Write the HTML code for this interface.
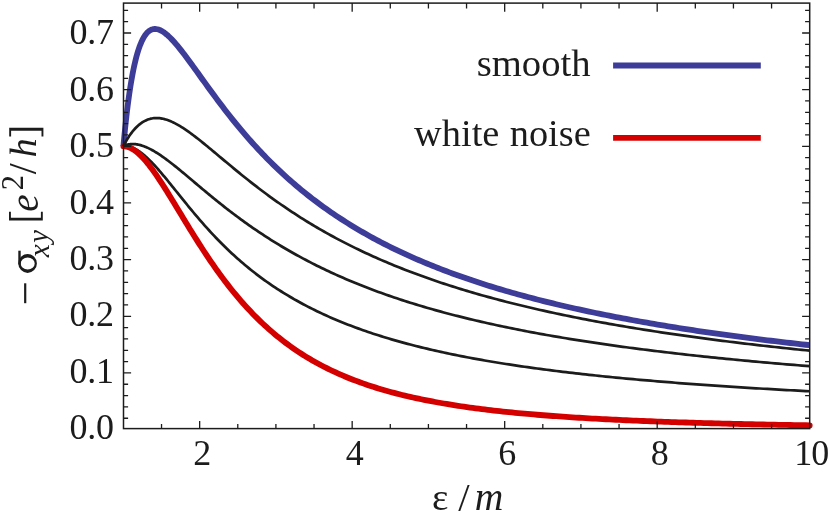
<!DOCTYPE html>
<html><head><meta charset="utf-8"><title>sigma_xy</title>
<style>
html,body{margin:0;padding:0;background:#fff;}
svg{display:block;will-change:transform;}
text{font-family:"Liberation Serif",serif;fill:#1c1c1c;}
</style></head>
<body>
<svg width="830" height="514" viewBox="0 0 830 514">
<rect width="830" height="514" fill="#ffffff"/>
<path d="M123.40 146.30 L123.44 145.83 L123.54 144.77 L123.67 143.27 L123.85 141.39 L124.05 139.19 L124.29 136.69 L124.56 133.94 L124.86 130.97 L125.18 127.80 L125.53 124.47 L125.90 121.00 L126.30 117.41 L126.72 113.73 L127.17 109.98 L127.64 106.18 L128.13 102.35 L128.64 98.50 L129.18 94.67 L129.74 90.85 L130.31 87.08 L130.91 83.36 L131.53 79.70 L132.17 76.12 L132.82 72.63 L133.50 69.24 L134.20 65.95 L134.91 62.78 L135.65 59.74 L136.40 56.82 L137.17 54.04 L137.96 51.39 L138.77 48.89 L139.59 46.54 L140.44 44.33 L141.30 42.27 L142.18 40.37 L143.07 38.61 L143.98 37.01 L144.91 35.55 L145.86 34.25 L146.82 33.10 L147.80 32.09 L148.80 31.23 L149.81 30.51 L150.84 29.93 L151.88 29.49 L152.94 29.18 L154.02 29.00 L155.11 28.95 L156.22 29.03 L157.34 29.23 L158.48 29.54 L159.64 29.97 L160.81 30.50 L161.99 31.14 L163.19 31.89 L164.41 32.73 L165.64 33.66 L166.88 34.69 L168.14 35.80 L169.42 37.00 L170.71 38.27 L172.01 39.62 L173.33 41.04 L174.67 42.53 L176.01 44.08 L177.38 45.70 L178.75 47.37 L180.14 49.10 L181.55 50.88 L182.97 52.71 L184.40 54.58 L185.85 56.50 L187.31 58.46 L188.78 60.45 L190.27 62.48 L191.78 64.54 L193.29 66.63 L194.82 68.75 L196.37 70.90 L197.92 73.06 L199.50 75.25 L201.08 77.46 L202.68 79.68 L204.29 81.92 L205.91 84.17 L207.55 86.44 L209.20 88.71 L210.87 91.00 L212.54 93.29 L214.23 95.58 L215.94 97.88 L217.65 100.19 L219.38 102.49 L221.12 104.80 L222.88 107.10 L224.65 109.41 L226.43 111.71 L228.22 114.00 L230.03 116.30 L231.85 118.59 L233.68 120.87 L235.52 123.14 L237.38 125.41 L239.25 127.67 L241.13 129.92 L243.03 132.17 L244.93 134.40 L246.85 136.62 L248.78 138.83 L250.73 141.03 L252.68 143.22 L254.65 145.39 L256.63 147.56 L258.63 149.71 L260.63 151.84 L262.65 153.97 L264.68 156.08 L266.72 158.17 L268.77 160.25 L270.84 162.32 L272.91 164.37 L275.00 166.41 L277.11 168.43 L279.22 170.44 L281.34 172.43 L283.48 174.41 L285.63 176.37 L287.79 178.31 L289.96 180.24 L292.15 182.16 L294.34 184.06 L296.55 185.94 L298.77 187.80 L301.00 189.66 L303.24 191.49 L305.49 193.31 L307.76 195.11 L310.04 196.90 L312.33 198.68 L314.63 200.43 L316.94 202.17 L319.26 203.90 L321.59 205.61 L323.94 207.30 L326.30 208.98 L328.66 210.65 L331.04 212.30 L333.43 213.93 L335.84 215.55 L338.25 217.15 L340.67 218.74 L343.11 220.31 L345.56 221.87 L348.01 223.42 L350.48 224.95 L352.96 226.46 L355.45 227.96 L357.96 229.45 L360.47 230.92 L362.99 232.38 L365.53 233.83 L368.08 235.26 L370.63 236.68 L373.20 238.08 L375.78 239.47 L378.37 240.85 L380.97 242.21 L383.58 243.56 L386.21 244.90 L388.84 246.23 L391.48 247.54 L394.14 248.84 L396.81 250.13 L399.48 251.40 L402.17 252.66 L404.87 253.92 L407.58 255.15 L410.30 256.38 L413.03 257.60 L415.77 258.80 L418.52 259.99 L421.28 261.17 L424.05 262.34 L426.83 263.50 L429.63 264.65 L432.43 265.78 L435.25 266.91 L438.07 268.02 L440.91 269.12 L443.75 270.22 L446.61 271.30 L449.48 272.37 L452.35 273.44 L455.24 274.49 L458.14 275.53 L461.05 276.56 L463.97 277.58 L466.90 278.60 L469.84 279.60 L472.79 280.59 L475.75 281.58 L478.72 282.55 L481.70 283.52 L484.69 284.48 L487.69 285.43 L490.70 286.37 L493.72 287.30 L496.75 288.22 L499.80 289.13 L502.85 290.04 L505.91 290.93 L508.98 291.82 L512.07 292.70 L515.16 293.57 L518.26 294.44 L521.37 295.29 L524.50 296.14 L527.63 296.98 L530.77 297.81 L533.93 298.64 L537.09 299.46 L540.26 300.27 L543.44 301.07 L546.64 301.87 L549.84 302.65 L553.05 303.43 L556.27 304.21 L559.51 304.98 L562.75 305.74 L566.00 306.49 L569.26 307.24 L572.54 307.98 L575.82 308.71 L579.11 309.44 L582.41 310.16 L585.72 310.87 L589.04 311.58 L592.37 312.28 L595.72 312.98 L599.07 313.67 L602.43 314.35 L605.80 315.03 L609.18 315.70 L612.56 316.37 L615.96 317.03 L619.37 317.68 L622.79 318.33 L626.22 318.97 L629.66 319.61 L633.10 320.24 L636.56 320.87 L640.03 321.49 L643.50 322.11 L646.99 322.72 L650.49 323.33 L653.99 323.93 L657.50 324.52 L661.03 325.11 L664.56 325.70 L668.11 326.28 L671.66 326.86 L675.22 327.43 L678.79 327.99 L682.37 328.55 L685.96 329.11 L689.56 329.66 L693.17 330.21 L696.79 330.76 L700.42 331.29 L704.06 331.83 L707.71 332.36 L711.36 332.88 L715.03 333.41 L718.70 333.92 L722.39 334.44 L726.08 334.95 L729.79 335.45 L733.50 335.95 L737.22 336.45 L740.95 336.94 L744.69 337.43 L748.44 337.91 L752.20 338.40 L755.97 338.87 L759.75 339.35 L763.54 339.82 L767.33 340.28 L771.14 340.75 L774.95 341.20 L778.78 341.66 L782.61 342.11 L786.45 342.56 L790.30 343.00 L794.17 343.45 L798.04 343.88 L801.91 344.32 L805.80 344.75 L809.70 345.18" fill="none" stroke="#3d3d99" stroke-width="5.8" stroke-linecap="butt" stroke-linejoin="round"/>
<path d="M123.40 146.30 L123.44 146.29 L123.54 146.28 L123.67 146.26 L123.85 146.24 L124.05 146.21 L124.29 146.19 L124.56 146.17 L124.86 146.15 L125.18 146.14 L125.53 146.13 L125.90 146.14 L126.30 146.15 L126.72 146.18 L127.17 146.22 L127.64 146.28 L128.13 146.36 L128.64 146.45 L129.18 146.56 L129.74 146.70 L130.31 146.86 L130.91 147.04 L131.53 147.25 L132.17 147.49 L132.82 147.75 L133.50 148.05 L134.20 148.37 L134.91 148.73 L135.65 149.12 L136.40 149.55 L137.17 150.01 L137.96 150.50 L138.77 151.04 L139.59 151.60 L140.44 152.21 L141.30 152.86 L142.18 153.54 L143.07 154.26 L143.98 155.02 L144.91 155.82 L145.86 156.66 L146.82 157.54 L147.80 158.46 L148.80 159.42 L149.81 160.41 L150.84 161.45 L151.88 162.52 L152.94 163.64 L154.02 164.79 L155.11 165.98 L156.22 167.20 L157.34 168.46 L158.48 169.75 L159.64 171.08 L160.81 172.44 L161.99 173.84 L163.19 175.27 L164.41 176.72 L165.64 178.21 L166.88 179.72 L168.14 181.26 L169.42 182.83 L170.71 184.42 L172.01 186.04 L173.33 187.68 L174.67 189.33 L176.01 191.01 L177.38 192.71 L178.75 194.43 L180.14 196.16 L181.55 197.90 L182.97 199.66 L184.40 201.43 L185.85 203.21 L187.31 205.01 L188.78 206.81 L190.27 208.61 L191.78 210.43 L193.29 212.25 L194.82 214.07 L196.37 215.90 L197.92 217.73 L199.50 219.56 L201.08 221.39 L202.68 223.21 L204.29 225.04 L205.91 226.86 L207.55 228.68 L209.20 230.50 L210.87 232.31 L212.54 234.11 L214.23 235.91 L215.94 237.70 L217.65 239.49 L219.38 241.26 L221.12 243.03 L222.88 244.78 L224.65 246.53 L226.43 248.26 L228.22 249.99 L230.03 251.70 L231.85 253.40 L233.68 255.09 L235.52 256.77 L237.38 258.43 L239.25 260.08 L241.13 261.72 L243.03 263.35 L244.93 264.96 L246.85 266.56 L248.78 268.14 L250.73 269.71 L252.68 271.26 L254.65 272.81 L256.63 274.33 L258.63 275.84 L260.63 277.34 L262.65 278.82 L264.68 280.29 L266.72 281.75 L268.77 283.18 L270.84 284.61 L272.91 286.02 L275.00 287.41 L277.11 288.79 L279.22 290.16 L281.34 291.51 L283.48 292.84 L285.63 294.16 L287.79 295.47 L289.96 296.76 L292.15 298.04 L294.34 299.31 L296.55 300.55 L298.77 301.79 L301.00 303.01 L303.24 304.22 L305.49 305.41 L307.76 306.59 L310.04 307.76 L312.33 308.91 L314.63 310.05 L316.94 311.18 L319.26 312.29 L321.59 313.39 L323.94 314.48 L326.30 315.55 L328.66 316.61 L331.04 317.66 L333.43 318.69 L335.84 319.72 L338.25 320.73 L340.67 321.73 L343.11 322.71 L345.56 323.69 L348.01 324.65 L350.48 325.60 L352.96 326.54 L355.45 327.47 L357.96 328.39 L360.47 329.29 L362.99 330.19 L365.53 331.07 L368.08 331.95 L370.63 332.81 L373.20 333.66 L375.78 334.50 L378.37 335.33 L380.97 336.16 L383.58 336.97 L386.21 337.77 L388.84 338.56 L391.48 339.34 L394.14 340.11 L396.81 340.88 L399.48 341.63 L402.17 342.37 L404.87 343.11 L407.58 343.84 L410.30 344.55 L413.03 345.26 L415.77 345.96 L418.52 346.65 L421.28 347.34 L424.05 348.01 L426.83 348.68 L429.63 349.34 L432.43 349.99 L435.25 350.63 L438.07 351.27 L440.91 351.89 L443.75 352.51 L446.61 353.13 L449.48 353.73 L452.35 354.33 L455.24 354.92 L458.14 355.50 L461.05 356.08 L463.97 356.65 L466.90 357.21 L469.84 357.77 L472.79 358.32 L475.75 358.86 L478.72 359.40 L481.70 359.93 L484.69 360.46 L487.69 360.98 L490.70 361.49 L493.72 362.00 L496.75 362.50 L499.80 362.99 L502.85 363.48 L505.91 363.96 L508.98 364.44 L512.07 364.92 L515.16 365.38 L518.26 365.85 L521.37 366.30 L524.50 366.75 L527.63 367.20 L530.77 367.64 L533.93 368.08 L537.09 368.51 L540.26 368.94 L543.44 369.36 L546.64 369.78 L549.84 370.19 L553.05 370.60 L556.27 371.00 L559.51 371.40 L562.75 371.80 L566.00 372.19 L569.26 372.58 L572.54 372.96 L575.82 373.34 L579.11 373.71 L582.41 374.08 L585.72 374.45 L589.04 374.81 L592.37 375.17 L595.72 375.52 L599.07 375.87 L602.43 376.22 L605.80 376.57 L609.18 376.91 L612.56 377.24 L615.96 377.58 L619.37 377.90 L622.79 378.23 L626.22 378.55 L629.66 378.87 L633.10 379.19 L636.56 379.50 L640.03 379.81 L643.50 380.12 L646.99 380.42 L650.49 380.72 L653.99 381.02 L657.50 381.32 L661.03 381.61 L664.56 381.90 L668.11 382.18 L671.66 382.47 L675.22 382.75 L678.79 383.03 L682.37 383.30 L685.96 383.57 L689.56 383.84 L693.17 384.11 L696.79 384.38 L700.42 384.64 L704.06 384.90 L707.71 385.15 L711.36 385.41 L715.03 385.66 L718.70 385.91 L722.39 386.16 L726.08 386.40 L729.79 386.65 L733.50 386.89 L737.22 387.13 L740.95 387.36 L744.69 387.60 L748.44 387.83 L752.20 388.06 L755.97 388.29 L759.75 388.51 L763.54 388.74 L767.33 388.96 L771.14 389.18 L774.95 389.40 L778.78 389.61 L782.61 389.83 L786.45 390.04 L790.30 390.25 L794.17 390.46 L798.04 390.66 L801.91 390.87 L805.80 391.07 L809.70 391.27" fill="none" stroke="#1c1c1c" stroke-width="2.7" stroke-linecap="butt" stroke-linejoin="round"/>
<path d="M123.40 146.30 L123.44 146.30 L123.54 146.30 L123.67 146.30 L123.85 146.31 L124.05 146.32 L124.29 146.33 L124.56 146.35 L124.86 146.38 L125.18 146.41 L125.53 146.46 L125.90 146.52 L126.30 146.60 L126.72 146.69 L127.17 146.80 L127.64 146.93 L128.13 147.08 L128.64 147.26 L129.18 147.46 L129.74 147.69 L130.31 147.94 L130.91 148.23 L131.53 148.54 L132.17 148.89 L132.82 149.28 L133.50 149.70 L134.20 150.16 L134.91 150.66 L135.65 151.20 L136.40 151.78 L137.17 152.40 L137.96 153.07 L138.77 153.79 L139.59 154.55 L140.44 155.35 L141.30 156.21 L142.18 157.11 L143.07 158.06 L143.98 159.06 L144.91 160.11 L145.86 161.21 L146.82 162.36 L147.80 163.56 L148.80 164.81 L149.81 166.11 L150.84 167.46 L151.88 168.87 L152.94 170.32 L154.02 171.82 L155.11 173.36 L156.22 174.96 L157.34 176.60 L158.48 178.29 L159.64 180.03 L160.81 181.81 L161.99 183.63 L163.19 185.50 L164.41 187.41 L165.64 189.35 L166.88 191.34 L168.14 193.36 L169.42 195.42 L170.71 197.52 L172.01 199.65 L173.33 201.81 L174.67 204.00 L176.01 206.22 L177.38 208.47 L178.75 210.74 L180.14 213.04 L181.55 215.35 L182.97 217.69 L184.40 220.05 L185.85 222.43 L187.31 224.82 L188.78 227.23 L190.27 229.65 L191.78 232.08 L193.29 234.52 L194.82 236.96 L196.37 239.42 L197.92 241.88 L199.50 244.34 L201.08 246.80 L202.68 249.26 L204.29 251.73 L205.91 254.19 L207.55 256.64 L209.20 259.09 L210.87 261.54 L212.54 263.97 L214.23 266.40 L215.94 268.82 L217.65 271.22 L219.38 273.62 L221.12 276.00 L222.88 278.37 L224.65 280.72 L226.43 283.05 L228.22 285.37 L230.03 287.67 L231.85 289.95 L233.68 292.22 L235.52 294.46 L237.38 296.68 L239.25 298.88 L241.13 301.06 L243.03 303.22 L244.93 305.35 L246.85 307.46 L248.78 309.55 L250.73 311.61 L252.68 313.65 L254.65 315.67 L256.63 317.66 L258.63 319.62 L260.63 321.56 L262.65 323.48 L264.68 325.36 L266.72 327.23 L268.77 329.06 L270.84 330.87 L272.91 332.66 L275.00 334.41 L277.11 336.15 L279.22 337.85 L281.34 339.53 L283.48 341.19 L285.63 342.82 L287.79 344.42 L289.96 346.00 L292.15 347.55 L294.34 349.08 L296.55 350.58 L298.77 352.06 L301.00 353.51 L303.24 354.94 L305.49 356.34 L307.76 357.72 L310.04 359.07 L312.33 360.41 L314.63 361.71 L316.94 363.00 L319.26 364.26 L321.59 365.50 L323.94 366.72 L326.30 367.91 L328.66 369.09 L331.04 370.24 L333.43 371.37 L335.84 372.48 L338.25 373.57 L340.67 374.64 L343.11 375.68 L345.56 376.71 L348.01 377.72 L350.48 378.71 L352.96 379.68 L355.45 380.64 L357.96 381.57 L360.47 382.49 L362.99 383.39 L365.53 384.27 L368.08 385.13 L370.63 385.98 L373.20 386.81 L375.78 387.63 L378.37 388.42 L380.97 389.21 L383.58 389.98 L386.21 390.73 L388.84 391.47 L391.48 392.19 L394.14 392.90 L396.81 393.59 L399.48 394.27 L402.17 394.94 L404.87 395.60 L407.58 396.24 L410.30 396.86 L413.03 397.48 L415.77 398.08 L418.52 398.68 L421.28 399.26 L424.05 399.82 L426.83 400.38 L429.63 400.93 L432.43 401.46 L435.25 401.98 L438.07 402.50 L440.91 403.00 L443.75 403.49 L446.61 403.98 L449.48 404.45 L452.35 404.91 L455.24 405.37 L458.14 405.82 L461.05 406.25 L463.97 406.68 L466.90 407.10 L469.84 407.51 L472.79 407.91 L475.75 408.31 L478.72 408.69 L481.70 409.07 L484.69 409.45 L487.69 409.81 L490.70 410.17 L493.72 410.52 L496.75 410.86 L499.80 411.20 L502.85 411.53 L505.91 411.85 L508.98 412.16 L512.07 412.48 L515.16 412.78 L518.26 413.08 L521.37 413.37 L524.50 413.66 L527.63 413.94 L530.77 414.21 L533.93 414.48 L537.09 414.75 L540.26 415.01 L543.44 415.26 L546.64 415.51 L549.84 415.76 L553.05 416.00 L556.27 416.23 L559.51 416.46 L562.75 416.69 L566.00 416.91 L569.26 417.13 L572.54 417.34 L575.82 417.55 L579.11 417.75 L582.41 417.96 L585.72 418.15 L589.04 418.35 L592.37 418.54 L595.72 418.72 L599.07 418.91 L602.43 419.08 L605.80 419.26 L609.18 419.43 L612.56 419.60 L615.96 419.77 L619.37 419.93 L622.79 420.09 L626.22 420.25 L629.66 420.40 L633.10 420.55 L636.56 420.70 L640.03 420.85 L643.50 420.99 L646.99 421.13 L650.49 421.27 L653.99 421.40 L657.50 421.53 L661.03 421.66 L664.56 421.79 L668.11 421.92 L671.66 422.04 L675.22 422.16 L678.79 422.28 L682.37 422.40 L685.96 422.51 L689.56 422.62 L693.17 422.73 L696.79 422.84 L700.42 422.95 L704.06 423.05 L707.71 423.15 L711.36 423.25 L715.03 423.35 L718.70 423.45 L722.39 423.54 L726.08 423.64 L729.79 423.73 L733.50 423.82 L737.22 423.91 L740.95 424.00 L744.69 424.08 L748.44 424.17 L752.20 424.25 L755.97 424.33 L759.75 424.41 L763.54 424.49 L767.33 424.56 L771.14 424.64 L774.95 424.71 L778.78 424.79 L782.61 424.86 L786.45 424.93 L790.30 425.00 L794.17 425.07 L798.04 425.13 L801.91 425.20 L805.80 425.26 L809.70 425.33" fill="none" stroke="#d40000" stroke-width="5.8" stroke-linecap="round" stroke-linejoin="round"/>
<path d="M123.40 146.30 L123.44 146.28 L123.54 146.22 L123.67 146.15 L123.85 146.06 L124.05 145.95 L124.29 145.83 L124.56 145.71 L124.86 145.57 L125.18 145.43 L125.53 145.29 L125.90 145.15 L126.30 145.02 L126.72 144.88 L127.17 144.75 L127.64 144.63 L128.13 144.51 L128.64 144.40 L129.18 144.31 L129.74 144.22 L130.31 144.15 L130.91 144.10 L131.53 144.06 L132.17 144.03 L132.82 144.03 L133.50 144.04 L134.20 144.07 L134.91 144.13 L135.65 144.20 L136.40 144.30 L137.17 144.42 L137.96 144.57 L138.77 144.73 L139.59 144.93 L140.44 145.15 L141.30 145.39 L142.18 145.67 L143.07 145.97 L143.98 146.30 L144.91 146.65 L145.86 147.04 L146.82 147.45 L147.80 147.89 L148.80 148.36 L149.81 148.86 L150.84 149.39 L151.88 149.95 L152.94 150.53 L154.02 151.15 L155.11 151.80 L156.22 152.47 L157.34 153.18 L158.48 153.91 L159.64 154.67 L160.81 155.46 L161.99 156.27 L163.19 157.12 L164.41 157.99 L165.64 158.88 L166.88 159.80 L168.14 160.75 L169.42 161.72 L170.71 162.72 L172.01 163.73 L173.33 164.77 L174.67 165.84 L176.01 166.92 L177.38 168.03 L178.75 169.15 L180.14 170.29 L181.55 171.45 L182.97 172.63 L184.40 173.83 L185.85 175.04 L187.31 176.26 L188.78 177.51 L190.27 178.76 L191.78 180.03 L193.29 181.31 L194.82 182.60 L196.37 183.90 L197.92 185.21 L199.50 186.54 L201.08 187.87 L202.68 189.21 L204.29 190.55 L205.91 191.90 L207.55 193.26 L209.20 194.63 L210.87 196.00 L212.54 197.37 L214.23 198.75 L215.94 200.13 L217.65 201.51 L219.38 202.90 L221.12 204.29 L222.88 205.68 L224.65 207.07 L226.43 208.46 L228.22 209.85 L230.03 211.24 L231.85 212.63 L233.68 214.02 L235.52 215.41 L237.38 216.79 L239.25 218.17 L241.13 219.55 L243.03 220.93 L244.93 222.31 L246.85 223.68 L248.78 225.04 L250.73 226.41 L252.68 227.77 L254.65 229.12 L256.63 230.47 L258.63 231.82 L260.63 233.15 L262.65 234.49 L264.68 235.82 L266.72 237.14 L268.77 238.46 L270.84 239.77 L272.91 241.07 L275.00 242.37 L277.11 243.66 L279.22 244.95 L281.34 246.23 L283.48 247.50 L285.63 248.76 L287.79 250.02 L289.96 251.27 L292.15 252.51 L294.34 253.75 L296.55 254.97 L298.77 256.19 L301.00 257.41 L303.24 258.61 L305.49 259.81 L307.76 260.99 L310.04 262.17 L312.33 263.35 L314.63 264.51 L316.94 265.67 L319.26 266.82 L321.59 267.96 L323.94 269.09 L326.30 270.21 L328.66 271.33 L331.04 272.43 L333.43 273.53 L335.84 274.62 L338.25 275.71 L340.67 276.78 L343.11 277.85 L345.56 278.90 L348.01 279.95 L350.48 280.99 L352.96 282.02 L355.45 283.05 L357.96 284.07 L360.47 285.07 L362.99 286.07 L365.53 287.06 L368.08 288.05 L370.63 289.02 L373.20 289.99 L375.78 290.95 L378.37 291.90 L380.97 292.84 L383.58 293.78 L386.21 294.70 L388.84 295.62 L391.48 296.54 L394.14 297.44 L396.81 298.34 L399.48 299.22 L402.17 300.10 L404.87 300.98 L407.58 301.84 L410.30 302.70 L413.03 303.55 L415.77 304.39 L418.52 305.23 L421.28 306.06 L424.05 306.88 L426.83 307.69 L429.63 308.50 L432.43 309.30 L435.25 310.09 L438.07 310.88 L440.91 311.65 L443.75 312.43 L446.61 313.19 L449.48 313.95 L452.35 314.70 L455.24 315.44 L458.14 316.18 L461.05 316.91 L463.97 317.64 L466.90 318.36 L469.84 319.07 L472.79 319.78 L475.75 320.47 L478.72 321.17 L481.70 321.86 L484.69 322.54 L487.69 323.21 L490.70 323.88 L493.72 324.54 L496.75 325.20 L499.80 325.85 L502.85 326.50 L505.91 327.14 L508.98 327.77 L512.07 328.40 L515.16 329.02 L518.26 329.64 L521.37 330.25 L524.50 330.86 L527.63 331.46 L530.77 332.06 L533.93 332.65 L537.09 333.23 L540.26 333.81 L543.44 334.39 L546.64 334.96 L549.84 335.52 L553.05 336.08 L556.27 336.64 L559.51 337.19 L562.75 337.74 L566.00 338.28 L569.26 338.81 L572.54 339.34 L575.82 339.87 L579.11 340.39 L582.41 340.91 L585.72 341.43 L589.04 341.94 L592.37 342.44 L595.72 342.94 L599.07 343.44 L602.43 343.93 L605.80 344.42 L609.18 344.90 L612.56 345.38 L615.96 345.86 L619.37 346.33 L622.79 346.80 L626.22 347.26 L629.66 347.72 L633.10 348.17 L636.56 348.63 L640.03 349.07 L643.50 349.52 L646.99 349.96 L650.49 350.40 L653.99 350.83 L657.50 351.26 L661.03 351.69 L664.56 352.11 L668.11 352.53 L671.66 352.94 L675.22 353.36 L678.79 353.77 L682.37 354.17 L685.96 354.57 L689.56 354.97 L693.17 355.37 L696.79 355.76 L700.42 356.15 L704.06 356.54 L707.71 356.92 L711.36 357.30 L715.03 357.68 L718.70 358.05 L722.39 358.42 L726.08 358.79 L729.79 359.16 L733.50 359.52 L737.22 359.88 L740.95 360.24 L744.69 360.59 L748.44 360.94 L752.20 361.29 L755.97 361.64 L759.75 361.98 L763.54 362.32 L767.33 362.66 L771.14 362.99 L774.95 363.32 L778.78 363.65 L782.61 363.98 L786.45 364.31 L790.30 364.63 L794.17 364.95 L798.04 365.27 L801.91 365.58 L805.80 365.89 L809.70 366.20" fill="none" stroke="#1c1c1c" stroke-width="2.7" stroke-linecap="butt" stroke-linejoin="round"/>
<path d="M123.40 146.30 L123.44 146.21 L123.54 146.01 L123.67 145.73 L123.85 145.37 L124.05 144.95 L124.29 144.48 L124.56 143.96 L124.86 143.39 L125.18 142.78 L125.53 142.14 L125.90 141.46 L126.30 140.76 L126.72 140.03 L127.17 139.27 L127.64 138.50 L128.13 137.72 L128.64 136.92 L129.18 136.11 L129.74 135.29 L130.31 134.47 L130.91 133.65 L131.53 132.82 L132.17 132.00 L132.82 131.18 L133.50 130.37 L134.20 129.56 L134.91 128.77 L135.65 127.99 L136.40 127.23 L137.17 126.48 L137.96 125.76 L138.77 125.05 L139.59 124.37 L140.44 123.71 L141.30 123.08 L142.18 122.48 L143.07 121.92 L143.98 121.38 L144.91 120.88 L145.86 120.42 L146.82 119.99 L147.80 119.60 L148.80 119.25 L149.81 118.94 L150.84 118.68 L151.88 118.46 L152.94 118.28 L154.02 118.15 L155.11 118.07 L156.22 118.03 L157.34 118.04 L158.48 118.10 L159.64 118.20 L160.81 118.36 L161.99 118.56 L163.19 118.80 L164.41 119.10 L165.64 119.44 L166.88 119.83 L168.14 120.27 L169.42 120.76 L170.71 121.28 L172.01 121.86 L173.33 122.48 L174.67 123.14 L176.01 123.84 L177.38 124.59 L178.75 125.38 L180.14 126.20 L181.55 127.07 L182.97 127.97 L184.40 128.91 L185.85 129.89 L187.31 130.89 L188.78 131.94 L190.27 133.01 L191.78 134.11 L193.29 135.25 L194.82 136.41 L196.37 137.60 L197.92 138.81 L199.50 140.05 L201.08 141.31 L202.68 142.60 L204.29 143.90 L205.91 145.23 L207.55 146.58 L209.20 147.94 L210.87 149.32 L212.54 150.71 L214.23 152.12 L215.94 153.55 L217.65 154.99 L219.38 156.43 L221.12 157.89 L222.88 159.36 L224.65 160.84 L226.43 162.33 L228.22 163.82 L230.03 165.33 L231.85 166.83 L233.68 168.35 L235.52 169.86 L237.38 171.38 L239.25 172.91 L241.13 174.44 L243.03 175.97 L244.93 177.50 L246.85 179.03 L248.78 180.56 L250.73 182.09 L252.68 183.62 L254.65 185.15 L256.63 186.68 L258.63 188.20 L260.63 189.73 L262.65 191.25 L264.68 192.76 L266.72 194.28 L268.77 195.79 L270.84 197.29 L272.91 198.79 L275.00 200.29 L277.11 201.78 L279.22 203.26 L281.34 204.74 L283.48 206.22 L285.63 207.68 L287.79 209.14 L289.96 210.60 L292.15 212.05 L294.34 213.49 L296.55 214.92 L298.77 216.35 L301.00 217.77 L303.24 219.18 L305.49 220.58 L307.76 221.98 L310.04 223.36 L312.33 224.74 L314.63 226.11 L316.94 227.48 L319.26 228.83 L321.59 230.18 L323.94 231.52 L326.30 232.85 L328.66 234.17 L331.04 235.48 L333.43 236.78 L335.84 238.08 L338.25 239.36 L340.67 240.64 L343.11 241.91 L345.56 243.17 L348.01 244.42 L350.48 245.66 L352.96 246.89 L355.45 248.12 L357.96 249.33 L360.47 250.54 L362.99 251.74 L365.53 252.92 L368.08 254.10 L370.63 255.27 L373.20 256.44 L375.78 257.59 L378.37 258.73 L380.97 259.87 L383.58 260.99 L386.21 262.11 L388.84 263.22 L391.48 264.32 L394.14 265.41 L396.81 266.49 L399.48 267.57 L402.17 268.63 L404.87 269.69 L407.58 270.74 L410.30 271.78 L413.03 272.81 L415.77 273.83 L418.52 274.85 L421.28 275.85 L424.05 276.85 L426.83 277.84 L429.63 278.83 L432.43 279.80 L435.25 280.77 L438.07 281.72 L440.91 282.67 L443.75 283.62 L446.61 284.55 L449.48 285.48 L452.35 286.40 L455.24 287.31 L458.14 288.21 L461.05 289.11 L463.97 290.00 L466.90 290.88 L469.84 291.76 L472.79 292.62 L475.75 293.48 L478.72 294.33 L481.70 295.18 L484.69 296.02 L487.69 296.85 L490.70 297.67 L493.72 298.49 L496.75 299.30 L499.80 300.11 L502.85 300.90 L505.91 301.69 L508.98 302.48 L512.07 303.26 L515.16 304.03 L518.26 304.79 L521.37 305.55 L524.50 306.30 L527.63 307.05 L530.77 307.79 L533.93 308.52 L537.09 309.25 L540.26 309.97 L543.44 310.68 L546.64 311.39 L549.84 312.09 L553.05 312.79 L556.27 313.48 L559.51 314.17 L562.75 314.85 L566.00 315.52 L569.26 316.19 L572.54 316.85 L575.82 317.51 L579.11 318.16 L582.41 318.81 L585.72 319.45 L589.04 320.09 L592.37 320.72 L595.72 321.34 L599.07 321.97 L602.43 322.58 L605.80 323.19 L609.18 323.80 L612.56 324.40 L615.96 324.99 L619.37 325.59 L622.79 326.17 L626.22 326.75 L629.66 327.33 L633.10 327.90 L636.56 328.47 L640.03 329.03 L643.50 329.59 L646.99 330.14 L650.49 330.69 L653.99 331.24 L657.50 331.78 L661.03 332.31 L664.56 332.85 L668.11 333.37 L671.66 333.90 L675.22 334.42 L678.79 334.93 L682.37 335.44 L685.96 335.95 L689.56 336.45 L693.17 336.95 L696.79 337.45 L700.42 337.94 L704.06 338.43 L707.71 338.91 L711.36 339.39 L715.03 339.87 L718.70 340.34 L722.39 340.81 L726.08 341.27 L729.79 341.74 L733.50 342.19 L737.22 342.65 L740.95 343.10 L744.69 343.55 L748.44 343.99 L752.20 344.43 L755.97 344.87 L759.75 345.30 L763.54 345.73 L767.33 346.16 L771.14 346.59 L774.95 347.01 L778.78 347.42 L782.61 347.84 L786.45 348.25 L790.30 348.66 L794.17 349.06 L798.04 349.47 L801.91 349.87 L805.80 350.26 L809.70 350.66" fill="none" stroke="#1c1c1c" stroke-width="2.7" stroke-linecap="butt" stroke-linejoin="round"/>
<rect x="123.5" y="3.1" width="686.20" height="425.50" fill="none" stroke="#1c1c1c" stroke-width="1.5"/>
<path d="M161.53 428.6 V424.1 M161.53 3.1 V8.5 M199.66 428.6 V421.1 M199.66 3.1 V11.7 M237.78 428.6 V424.1 M237.78 3.1 V8.5 M275.91 428.6 V424.1 M275.91 3.1 V8.5 M314.04 428.6 V424.1 M314.04 3.1 V8.5 M352.17 428.6 V421.1 M352.17 3.1 V11.7 M390.29 428.6 V424.1 M390.29 3.1 V8.5 M428.42 428.6 V424.1 M428.42 3.1 V8.5 M466.55 428.6 V424.1 M466.55 3.1 V8.5 M504.68 428.6 V421.1 M504.68 3.1 V11.7 M542.81 428.6 V424.1 M542.81 3.1 V8.5 M580.93 428.6 V424.1 M580.93 3.1 V8.5 M619.06 428.6 V424.1 M619.06 3.1 V8.5 M657.19 428.6 V421.1 M657.19 3.1 V11.7 M695.32 428.6 V424.1 M695.32 3.1 V8.5 M733.44 428.6 V424.1 M733.44 3.1 V8.5 M771.57 428.6 V424.1 M771.57 3.1 V8.5 M123.5 418.27 h4.6 M809.7 418.27 h-4.6 M123.5 406.94 h4.6 M809.7 406.94 h-4.6 M123.5 395.60 h4.6 M809.7 395.60 h-4.6 M123.5 384.27 h4.6 M809.7 384.27 h-4.6 M123.5 372.94 h7.6 M809.7 372.94 h-7.6 M123.5 361.61 h4.6 M809.7 361.61 h-4.6 M123.5 350.28 h4.6 M809.7 350.28 h-4.6 M123.5 338.94 h4.6 M809.7 338.94 h-4.6 M123.5 327.61 h4.6 M809.7 327.61 h-4.6 M123.5 316.28 h7.6 M809.7 316.28 h-7.6 M123.5 304.95 h4.6 M809.7 304.95 h-4.6 M123.5 293.62 h4.6 M809.7 293.62 h-4.6 M123.5 282.28 h4.6 M809.7 282.28 h-4.6 M123.5 270.95 h4.6 M809.7 270.95 h-4.6 M123.5 259.62 h7.6 M809.7 259.62 h-7.6 M123.5 248.29 h4.6 M809.7 248.29 h-4.6 M123.5 236.96 h4.6 M809.7 236.96 h-4.6 M123.5 225.62 h4.6 M809.7 225.62 h-4.6 M123.5 214.29 h4.6 M809.7 214.29 h-4.6 M123.5 202.96 h7.6 M809.7 202.96 h-7.6 M123.5 191.63 h4.6 M809.7 191.63 h-4.6 M123.5 180.30 h4.6 M809.7 180.30 h-4.6 M123.5 168.96 h4.6 M809.7 168.96 h-4.6 M123.5 157.63 h4.6 M809.7 157.63 h-4.6 M123.5 146.30 h7.6 M809.7 146.30 h-7.6 M123.5 134.97 h4.6 M809.7 134.97 h-4.6 M123.5 123.64 h4.6 M809.7 123.64 h-4.6 M123.5 112.30 h4.6 M809.7 112.30 h-4.6 M123.5 100.97 h4.6 M809.7 100.97 h-4.6 M123.5 89.64 h7.6 M809.7 89.64 h-7.6 M123.5 78.31 h4.6 M809.7 78.31 h-4.6 M123.5 66.98 h4.6 M809.7 66.98 h-4.6 M123.5 55.64 h4.6 M809.7 55.64 h-4.6 M123.5 44.31 h4.6 M809.7 44.31 h-4.6 M123.5 32.98 h7.6 M809.7 32.98 h-7.6 M123.5 21.65 h4.6 M809.7 21.65 h-4.6 M123.5 10.32 h4.6 M809.7 10.32 h-4.6" stroke="#1c1c1c" stroke-width="1.3" fill="none"/>
<path d="M613.1 65.5 H760.8" stroke="#3d3d99" stroke-width="5.8"/><path d="M613.1 137.8 H760.8" stroke="#d40000" stroke-width="5.8"/>
<text x="69.4" y="439.40" font-size="36" letter-spacing="-0.2">0.0</text>
<text x="69.4" y="382.93" font-size="36" letter-spacing="-0.2">0.1</text>
<text x="69.4" y="326.45" font-size="36" letter-spacing="-0.2">0.2</text>
<text x="69.4" y="269.98" font-size="36" letter-spacing="-0.2">0.3</text>
<text x="69.4" y="213.50" font-size="36" letter-spacing="-0.2">0.4</text>
<text x="69.4" y="157.03" font-size="36" letter-spacing="-0.2">0.5</text>
<text x="69.4" y="100.56" font-size="36" letter-spacing="-0.2">0.6</text>
<text x="69.4" y="44.08" font-size="36" letter-spacing="-0.2">0.7</text>
<text x="202.16" y="465.2" text-anchor="middle" font-size="36">2</text>
<text x="354.67" y="465.2" text-anchor="middle" font-size="36">4</text>
<text x="507.18" y="465.2" text-anchor="middle" font-size="36">6</text>
<text x="659.69" y="465.2" text-anchor="middle" font-size="36">8</text>
<text x="794.2" y="465.2" font-size="36"><tspan letter-spacing="-1">1</tspan>0</text>
<rect x="24.1" y="283.3" width="2.2" height="19.9" fill="#1c1c1c"/>
<path d="M9.0 220.6 L42.8 220.6 L42.8 211.7 L40.9 211.7 L40.9 217.7 L10.9 217.7 L10.9 211.7 L9.0 211.7 Z" fill="#1c1c1c"/>
<path d="M9.2 127.75 L43.4 127.75 L43.4 136.6 L41.5 136.6 L41.5 130.65 L11.1 130.65 L11.1 136.6 L9.2 136.6 Z" fill="#1c1c1c"/>
<text x="432.00" y="509.80" font-size="38.91">ε</text>
<text x="458.20" y="510.60" font-size="40.82">/</text>
<text x="474.80" y="509.80" font-size="39.55" font-style="italic">m</text>
<text x="476.70" y="75.90" font-size="38.69">smooth</text>
<text x="414.10" y="145.90" font-size="38.39" word-spacing="0.8">white noise</text>
<g transform="translate(37,0) rotate(-90)">
<text x="-257.30" y="11.90" font-size="29.5" font-style="italic">x</text>
<text x="-242.70" y="11.10" font-size="28.5" font-style="italic">y</text>
<text x="-211.80" y="0.70" font-size="39.34" font-style="italic">e</text>
<text x="-190.30" y="-14.00" font-size="30.5">2</text>
<text x="-174.20" y="-1.20" font-size="39.71">/</text>
<text x="-157.60" y="-1.00" font-size="38.31" font-style="italic">h</text>
<path fill-rule="evenodd" fill="#1c1c1c" d="M-272.9 -9.4 a9.5 9.3 0 1 0 19 0 a9.5 9.3 0 1 0 -19 0 Z M-269.4 -9.3 a6.0 7.0 0 1 1 12.0 0 a6.0 7.0 0 1 1 -12.0 0 Z"/><rect x="-264.5" y="-18.7" width="13.8" height="2.4" fill="#1c1c1c"/>
</g>
</svg>
</body></html>
